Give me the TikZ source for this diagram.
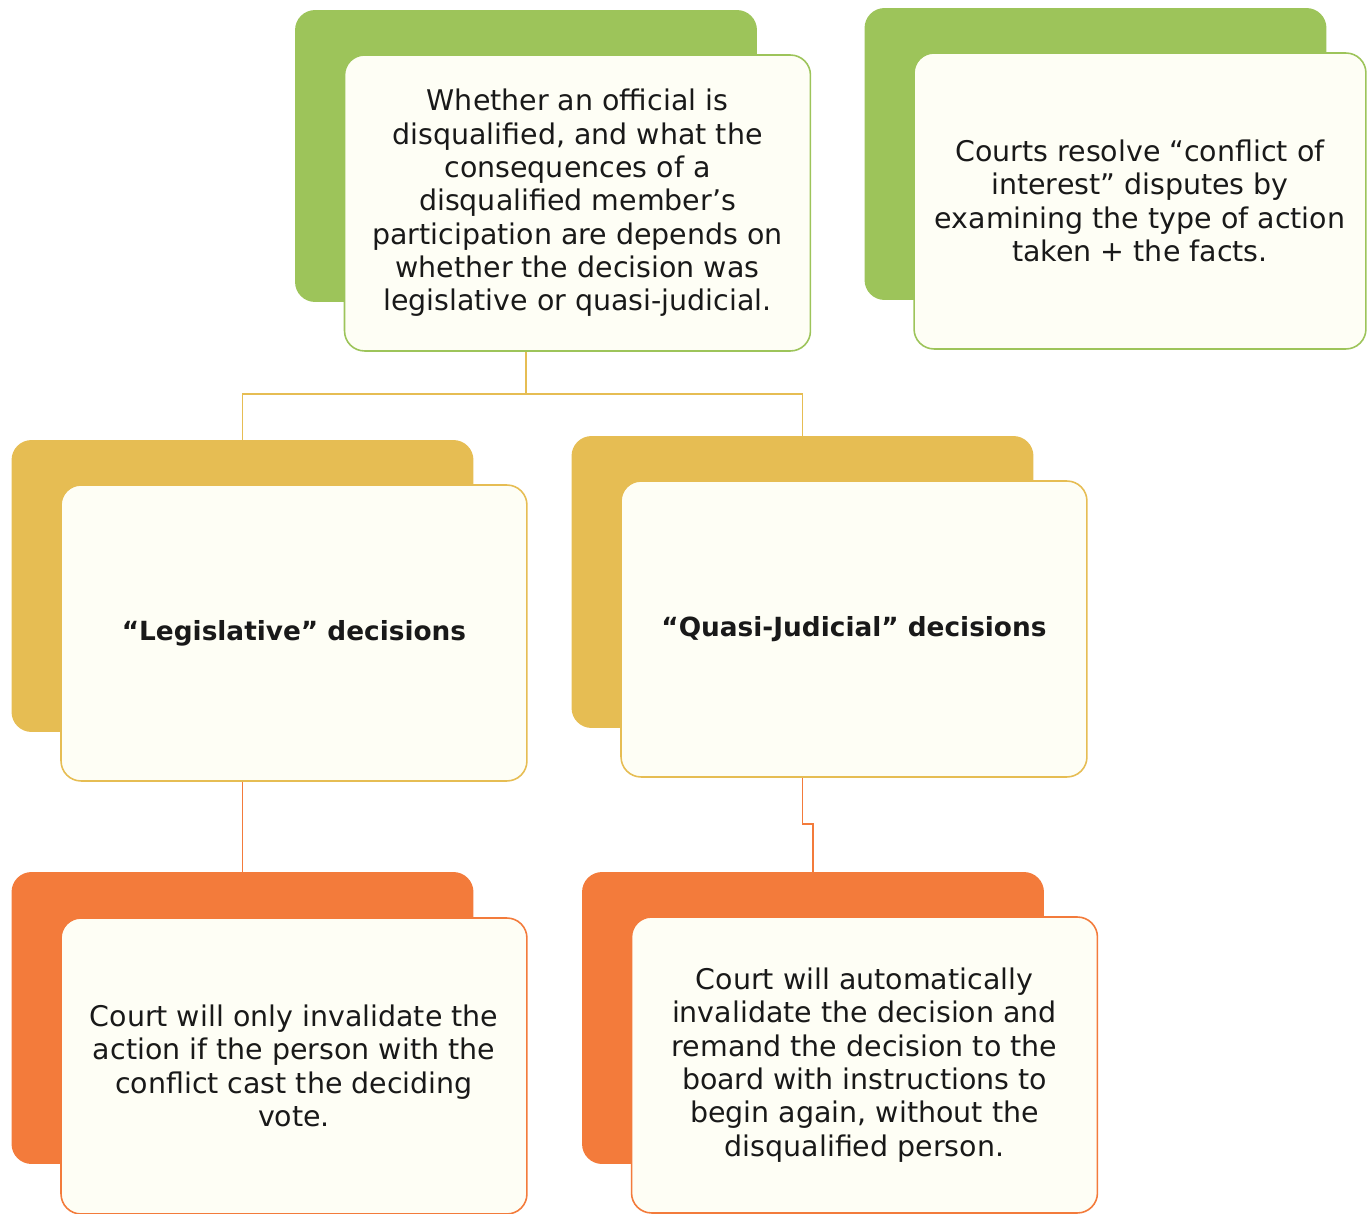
\documentclass[tikz,border=0pt]{standalone}
\usepackage{fontspec}
\setmainfont{DejaVu Sans}
\usepackage{tikz}
\usetikzlibrary{positioning}
\definecolor{leafgreen}{HTML}{9DC45A}
\definecolor{mustard}{HTML}{E6BD53}
\definecolor{tangerine}{HTML}{F37B3B}
\definecolor{cardwhite}{HTML}{FEFEF5}
\tikzstyle{backbox} = [rectangle, rounded corners=0.4cm, minimum width=9.24cm, minimum height=5.84cm, inner sep=0pt]
\tikzstyle{cardbox} = [rectangle, rounded corners=0.4cm, minimum width=9.32cm, minimum height=5.92cm, inner sep=0pt, fill=cardwhite, line width=0.9pt, align=center, text=black!90, font=\fontsize{16.2}{19}\selectfont]
\tikzstyle{link} = [line width=0.9pt]

\begin{document}
\begin{tikzpicture}[x=0.02cm, y=-0.02cm]
\useasboundingbox (0,0) rectangle (1367,1214);

% top row
\node (topback) [backbox, fill=leafgreen] at (526,156) {};
\node (topcard) [cardbox, draw=leafgreen, xshift=1.03cm, yshift=-0.94cm] at (topback) {Whether an official is\\disqualified, and what the\\consequences of a\\disqualified member’s\\participation are depends on\\whether the decision was\\legislative or quasi-judicial.};

\node (infoback) [backbox, fill=leafgreen] at (1095.5,154) {};
\node (infocard) [cardbox, draw=leafgreen, minimum width=9.04cm, xshift=0.89cm, yshift=-0.94cm] at (infoback) {Courts resolve “conflict of\\interest” disputes by\\examining the type of action\\taken + the facts.};

% decision types
\node (legback) [backbox, fill=mustard] at (242.5,586) {};
\node (legcard) [cardbox, draw=mustard, xshift=1.03cm, yshift=-0.94cm, font=\fontsize{15}{19}\selectfont\bfseries] at (legback) {“Legislative” decisions};

\node (qjback) [backbox, fill=mustard] at (802.5,582) {};
\node (qjcard) [cardbox, draw=mustard, xshift=1.03cm, yshift=-0.94cm, font=\fontsize{15}{19}\selectfont\bfseries] at (qjback) {“Quasi-Judicial” decisions};

% outcomes
\node (legresback) [backbox, fill=tangerine] at (242.5,1018) {};
\node (legrescard) [cardbox, draw=tangerine, xshift=1.03cm, yshift=-0.96cm] at (legresback) {Court will only invalidate the\\action if the person with the\\conflict cast the deciding\\vote.};

\node (qjresback) [backbox, fill=tangerine] at (813,1018) {};
\node (qjrescard) [cardbox, draw=tangerine, xshift=1.03cm, yshift=-0.94cm] at (qjresback) {Court will automatically\\invalidate the decision and\\remand the decision to the\\board with instructions to\\begin again, without the\\disqualified person.};

\draw [link, draw=mustard] (topback.south |- topcard.south) -- ++(0,42) -| (legback.north);
\draw [link, draw=mustard] (topback.south |- topcard.south) -- ++(0,42) -| (qjback.north);
\draw [link, draw=tangerine] (legback.south |- legcard.south) -- (legresback.north);
\draw [link, draw=tangerine] (qjback.south |- qjcard.south) -- ++(0,46) -| (qjresback.north);

\end{tikzpicture}
\end{document}
